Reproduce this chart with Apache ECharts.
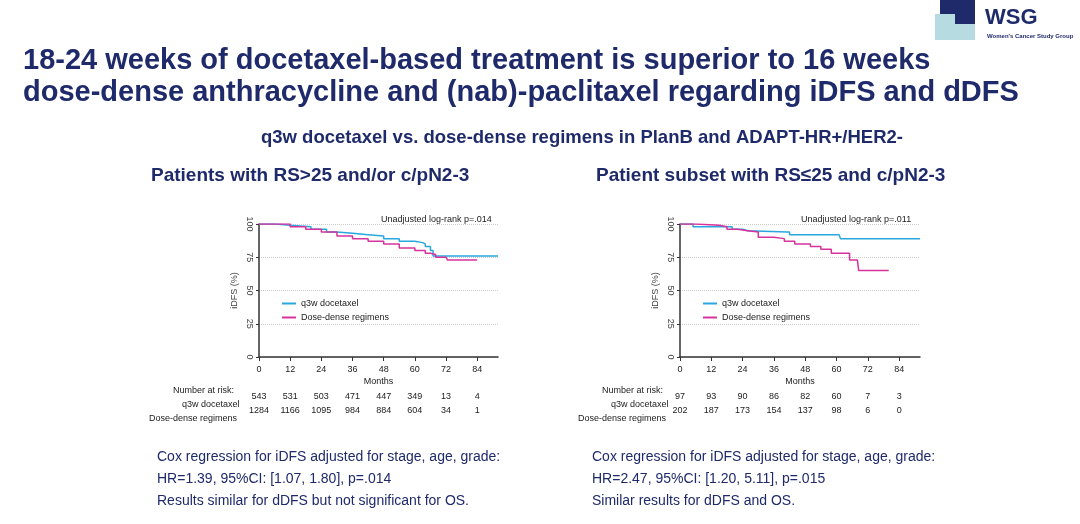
<!DOCTYPE html><html><head><meta charset="utf-8">
<script src="https://cdn.jsdelivr.net/npm/echarts@6/dist/echarts.min.js"></script>
<style>body{margin:0;background:#fff}#c{width:1080px;height:524px}</style></head><body><div id="c"></div>
<script>
const ticks=[0,12,24,36,48,60,72,84];
const leftQ3w=[[0,100],[6,99],[12,98],[20,96],[26,94],[30,93],[36,92],[42,91],[48,89],[54,87],[60,86],[63,85],[64,83],[66,80],[67,76],[92,76]];
const leftDD=[[0,100],[12,98],[18,96],[24,94],[30,91],[36,89],[42,87],[48,85],[54,82],[60,80],[64,78],[66,77],[68,75],[72,75],[72.5,73],[84,73]];
const rightQ3w=[[0,100],[5,98],[19,98],[20,96],[24,95],[26,94],[41,94],[42,92],[61,92],[61.5,89],[92,89]];
const rightDD=[[0,100],[6,99],[15,98],[18,96],[22,95],[26,94],[30,90],[36,89],[40,87],[44,85],[50,83],[54,81],[58,78],[64,78],[65,73],[68,73],[68.5,65],[80,65]];
const riskLeftQ=[543,531,503,471,447,349,13,4];
const riskLeftD=[1284,1166,1095,984,884,604,34,1];
const riskRightQ=[97,93,90,86,82,60,7,3];
const riskRightD=[202,187,173,154,137,98,6,0];
const BLUE='#29a8e0',PINK='#d6339c',NAVY='#1f2a6b';
const ch=echarts.init(document.getElementById('c'));
const F='Liberation Sans, Arial, sans-serif';
function xAx(grid,arr,off,show){return {type:'value',gridIndex:grid,position:'bottom',min:0,max:92,interval:12,offset:off,
 axisLine:{show:show,lineStyle:{color:'#333',width:1.5}},axisTick:{show:show,length:4,lineStyle:{color:'#333'}},splitLine:{show:false},
 name:show?'Months':'',nameLocation:'middle',nameGap:20,nameTextStyle:{fontSize:9,color:'#222',fontFamily:F},
 axisLabel:{fontSize:9,color:'#222',fontFamily:F,showMaxLabel:false,formatter:v=>{const i=ticks.indexOf(v);return i<0?'':(arr?String(arr[i]):String(v));}}};}
function yAx(grid){return {type:'value',gridIndex:grid,min:0,max:100,interval:25,name:'iDFS (%)',nameLocation:'middle',nameGap:20,
 nameTextStyle:{fontSize:9,color:'#444',fontFamily:F},nameRotate:90,
 axisLine:{show:true,lineStyle:{color:'#333',width:1.5}},axisTick:{show:true,length:3},
 splitLine:{show:true,lineStyle:{type:'dotted',color:'#ccc'}},axisLabel:{rotate:-90,fontSize:9,color:'#444',fontFamily:F,margin:5}};}
function ser(name,data,i,c){return {name,type:'line',step:'end',xAxisIndex:i,yAxisIndex:i,data,symbol:'none',lineStyle:{color:c,width:1.5},itemStyle:{color:c}};}
const txt=(t,l,tp,fs,c,w)=>({text:t,left:l,top:tp,textStyle:{fontSize:fs,color:c,fontWeight:w||'normal',fontFamily:F}});
ch.setOption({
 animation:false,
 title:[
  txt('18-24 weeks of docetaxel-based treatment is superior to 16 weeks',18,41,29,NAVY,'bold'),
  txt('dose-dense anthracycline and (nab)-paclitaxel regarding iDFS and dDFS',18,73,29,NAVY,'bold'),
  txt('q3w docetaxel vs. dose-dense regimens in PlanB and ADAPT-HR+/HER2-',256,123,18.5,NAVY,'bold'),
  txt('Patients with RS>25 and/or c/pN2-3',146,161,19,NAVY,'bold'),
  txt('Patient subset with RS≤25 and c/pN2-3',591,161,19,NAVY,'bold'),
  txt('Unadjusted log-rank p=.014',376,210,9,'#222'),
  txt('Unadjusted log-rank p=.011',796,210,9,'#222'),
  txt('Number at risk:',168,381,9,'#222'),
  txt('Number at risk:',597,381,9,'#222'),
  txt('q3w docetaxel',177,395,9,'#222'),
  txt('Dose-dense regimens',144,409,9,'#222'),
  txt('q3w docetaxel',606,395,9,'#222'),
  txt('Dose-dense regimens',573,409,9,'#222'),
  txt('Cox regression for iDFS adjusted for stage, age, grade:',152,445,14,NAVY),
  txt('HR=1.39, 95%CI: [1.07, 1.80], p=.014',152,467,14,NAVY),
  txt('Results similar for dDFS but not significant for OS.',152,489,14,NAVY),
  txt('Cox regression for iDFS adjusted for stage, age, grade:',587,445,14,NAVY),
  txt('HR=2.47, 95%CI: [1.20, 5.11], p=.015',587,467,14,NAVY),
  txt('Similar results for dDFS and OS.',587,489,14,NAVY),
  {text:'WSG',left:980,top:2,textStyle:{fontSize:22,fontWeight:'bold',color:NAVY,fontFamily:F}},
  {text:"Women's Cancer Study Group",left:982,top:28,textStyle:{fontSize:6,fontWeight:'bold',color:NAVY,fontFamily:F}}
 ],
 graphic:[
  {type:'rect',shape:{x:935,y:14,width:40,height:26},style:{fill:'#b6dbe1'}},
  {type:'polygon',shape:{points:[[940,0],[975,0],[975,24],[955,24],[955,14],[940,14]]},style:{fill:NAVY}}
 ],
 legend:[
  {data:['q3w docetaxel','Dose-dense regimens'],orient:'vertical',left:277,top:294,itemWidth:14,itemHeight:2,itemGap:5,icon:'rect',textStyle:{fontSize:9,color:'#222',fontFamily:F}},
  {data:['q3w docetaxel','Dose-dense regimens'],orient:'vertical',left:698,top:294,itemWidth:14,itemHeight:2,itemGap:5,icon:'rect',textStyle:{fontSize:9,color:'#222',fontFamily:F}}
 ],
 grid:[{left:259,width:239,top:224,height:133},{left:680,width:240,top:224,height:133}],
 xAxis:[xAx(0,null,0,true),xAx(1,null,0,true),xAx(0,riskLeftQ,27,false),xAx(0,riskLeftD,41,false),xAx(1,riskRightQ,27,false),xAx(1,riskRightD,41,false)],
 yAxis:[yAx(0),yAx(1)],
 series:[ser('q3w docetaxel',leftQ3w,0,BLUE),ser('Dose-dense regimens',leftDD,0,PINK),ser('q3w docetaxel',rightQ3w,1,BLUE),ser('Dose-dense regimens',rightDD,1,PINK)]
});
</script></body></html>
